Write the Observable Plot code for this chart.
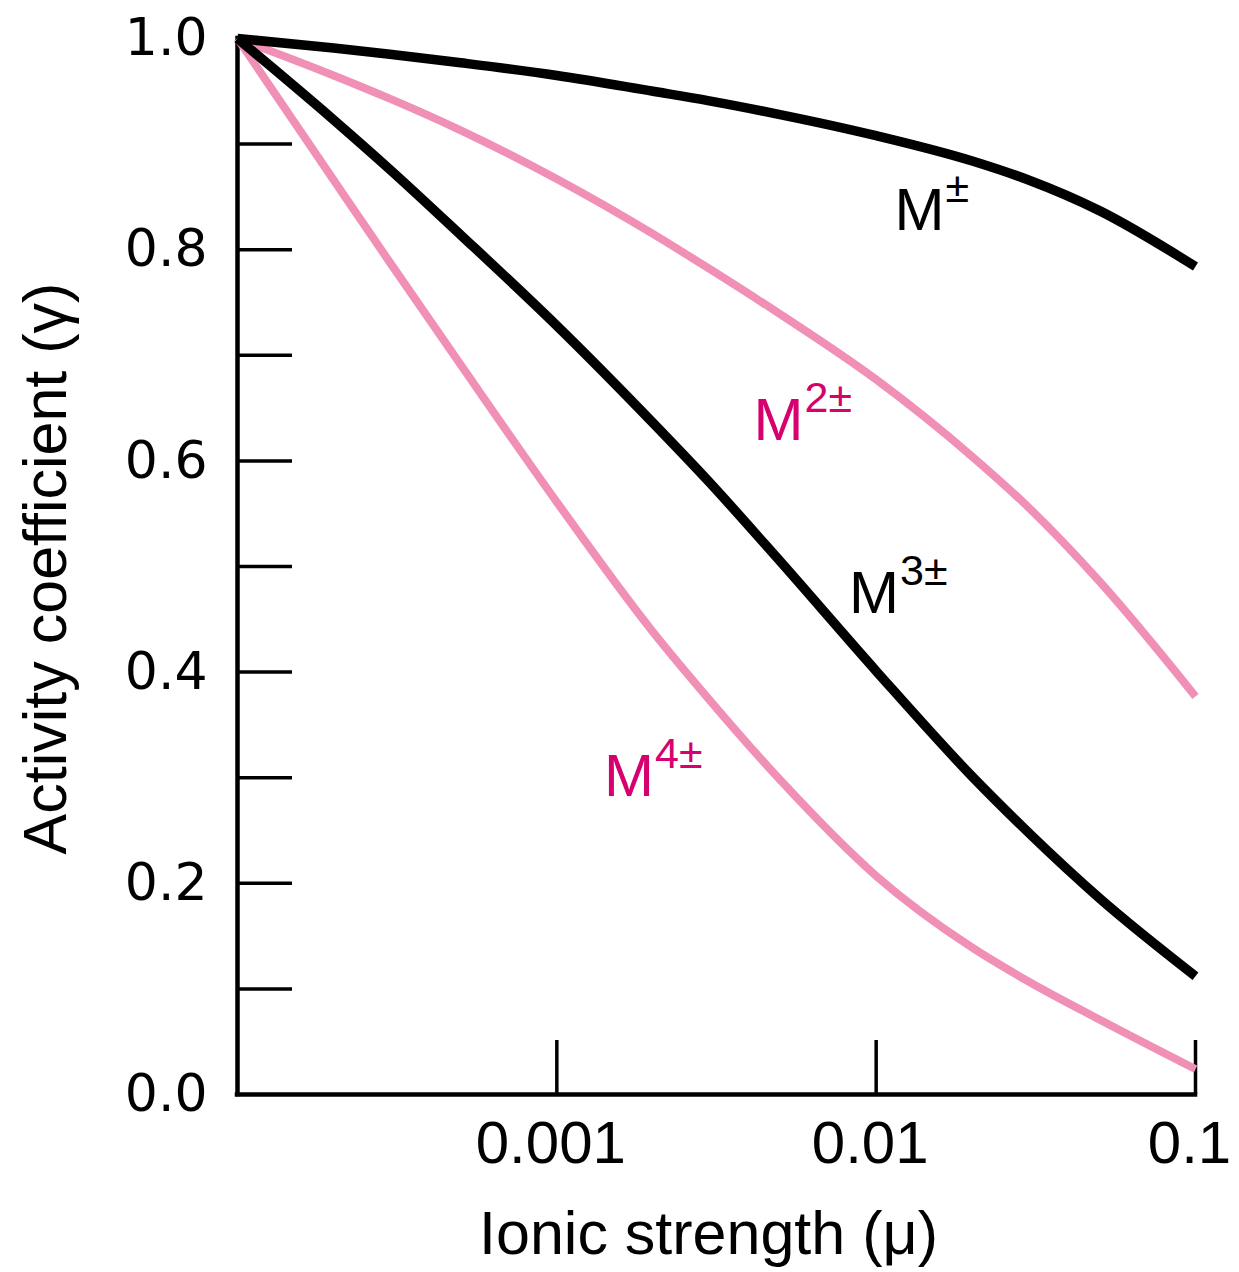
<!DOCTYPE html>
<html>
<head>
<meta charset="utf-8">
<script src="https://cdn.jsdelivr.net/npm/d3@7"></script>
<script src="https://cdn.jsdelivr.net/npm/@observablehq/plot@0.6"></script>
<style>
  html, body { margin: 0; padding: 0; background: #ffffff; overflow: hidden; }
</style>
</head>
<body>
<div id="chart"></div>
<script>
// ---- data ----
const ionicStrength = [1e-4, 2e-4, 3e-4, 5e-4, 1e-3, 2e-3, 3e-3, 5e-3, 1e-2, 2e-2, 3e-2, 5e-2, 1e-1];
const gammaM1 = [1.000, 0.991, 0.985, 0.977, 0.965, 0.950, 0.941, 0.928, 0.908, 0.884, 0.866, 0.837, 0.784];
const gammaM2 = [1.000, 0.965, 0.943, 0.913, 0.867, 0.815, 0.782, 0.739, 0.677, 0.604, 0.556, 0.486, 0.377];
const gammaM3 = [1.000, 0.923, 0.876, 0.814, 0.728, 0.636, 0.580, 0.505, 0.401, 0.301, 0.248, 0.186, 0.112];
const gammaM4 = [1.000, 0.866, 0.788, 0.691, 0.561, 0.438, 0.374, 0.298, 0.207, 0.139, 0.107, 0.071, 0.024];

const labelBase = ["M", "M", "M", "M"];
const labelSup = ["±", "2±", "3±", "4±"];
const labelMu = [0.01142, 0.00413, 0.00822, 0.001405];
const labelGamma = [0.819, 0.6198, 0.4555, 0.2827];

const yTickValues = [0.1, 0.2, 0.3, 0.4, 0.5, 0.6, 0.7, 0.8, 0.9];
const yTickLabels = [0, 0.2, 0.4, 0.6, 0.8, 1.0];
const xTickValues = [0.001, 0.01, 0.1];

const xTitle = "Ionic strength (μ)";
const yTitle = "Activity coefficient (γ)";

// ---- build tables ----
const toRows = g => ionicStrength.map((mu, i) => ({mu, gamma: g[i]}));
const rows1 = toRows(gammaM1), rows2 = toRows(gammaM2), rows3 = toRows(gammaM3), rows4 = toRows(gammaM4);
const labels = labelBase.map((b, i) => ({base: b, sup: labelSup[i], mu: labelMu[i], gamma: labelGamma[i], idx: i}));
const blackLabels = labels.filter(d => d.idx % 2 === 0);
const pinkLabels = labels.filter(d => d.idx % 2 === 1);

const W = 1239, H = 1272;
const mL = 237, mR = 44, mT = 38, mB = 178;
const plotW = W - mL - mR, plotH = H - mT - mB;

const PINK = "#f190b7";
const MAGENTA = "#d6006e";
const SANS = "Liberation Sans, Arial, Helvetica, sans-serif";

const lineOpts = {x: "mu", y: "gamma", curve: "monotone-x", strokeLinecap: "butt", strokeLinejoin: "round"};

const chart = Plot.plot({
  width: W,
  height: H,
  marginLeft: mL,
  marginRight: mR,
  marginTop: mT,
  marginBottom: mB,
  style: {background: "#ffffff", fontFamily: SANS, color: "#000", overflow: "visible"},
  x: {type: "log", domain: [1e-4, 0.1]},
  y: {domain: [0, 1]},
  marks: [
    // inner ticks
    Plot.tickY(yTickValues, {y: d => d, stroke: "#000", strokeWidth: 3.5, insetRight: plotW - 55}),
    Plot.tickX(xTickValues, {x: d => d, stroke: "#000", strokeWidth: 3.5, insetTop: plotH - 54}),
    // axis lines
    Plot.ruleX([1e-4], {stroke: "#000", strokeWidth: 4.5, strokeLinecap: "square"}),
    Plot.ruleY([0], {stroke: "#000", strokeWidth: 4.5, strokeLinecap: "square"}),
    // tick labels
    Plot.axisY({ticks: yTickLabels, tickSize: 0, tickPadding: 30, tickFormat: d3.format(".1f"),
      fontSize: 52, fontFamily: "DejaVu Sans", label: null}),
    Plot.axisX({ticks: xTickValues, tickSize: 0, tickPadding: 26, tickFormat: d => String(d),
      fontSize: 60, fontFamily: SANS, dx: -6, label: null}),
    // axis titles
    Plot.text([xTitle], {text: d => d, frameAnchor: "bottom", textAnchor: "middle", lineAnchor: "bottom",
      dx: -8, dy: 159, fontSize: 61, fontFamily: SANS, fill: "#000"}),
    Plot.text([yTitle], {text: d => d, frameAnchor: "left", textAnchor: "middle", lineAnchor: "middle",
      rotate: -90, dx: -191.5, dy: 2, fontSize: 61, fontFamily: SANS, fill: "#000"}),
    // curves
    Plot.line(rows2, {...lineOpts, stroke: PINK, strokeWidth: 8}),
    Plot.line(rows4, {...lineOpts, stroke: PINK, strokeWidth: 8}),
    Plot.line(rows1, {...lineOpts, stroke: "#000", strokeWidth: 9.5}),
    Plot.line(rows3, {...lineOpts, stroke: "#000", strokeWidth: 9.5}),
    // curve labels
    Plot.text(blackLabels, {x: "mu", y: "gamma", text: "base", textAnchor: "start", lineAnchor: "bottom", fontSize: 60, fontFamily: SANS, fill: "#000"}),
    Plot.text(blackLabels, {x: "mu", y: "gamma", text: "sup", textAnchor: "start", lineAnchor: "bottom", dx: 51, dy: -28, fontSize: 43, fontFamily: SANS, fill: "#000"}),
    Plot.text(pinkLabels, {x: "mu", y: "gamma", text: "base", textAnchor: "start", lineAnchor: "bottom", fontSize: 60, fontFamily: SANS, fill: MAGENTA}),
    Plot.text(pinkLabels, {x: "mu", y: "gamma", text: "sup", textAnchor: "start", lineAnchor: "bottom", dx: 51, dy: -28, fontSize: 43, fontFamily: SANS, fill: MAGENTA})
  ]
});
document.getElementById("chart").appendChild(chart);
</script>
</body>
</html>
